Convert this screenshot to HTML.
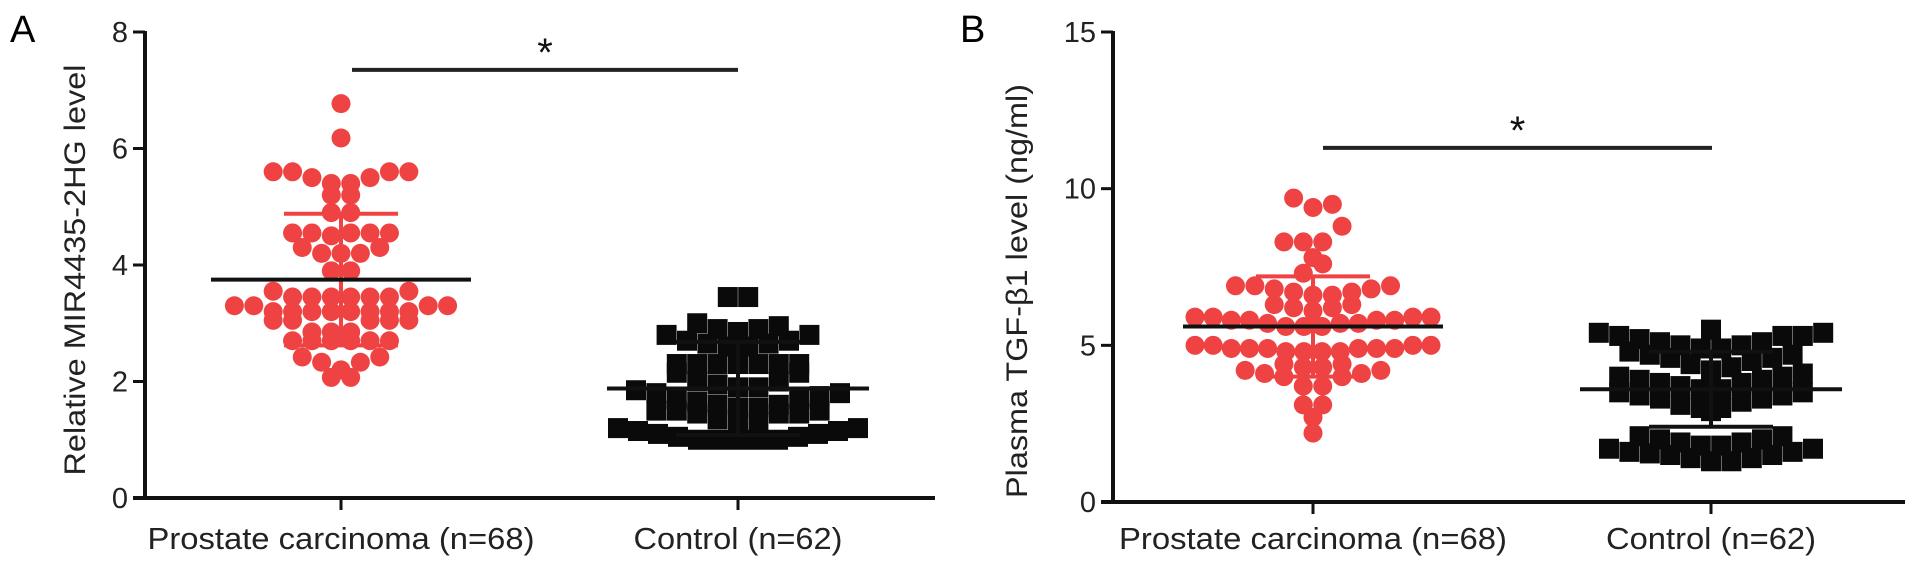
<!DOCTYPE html>
<html><head><meta charset="utf-8"><style>
html,body{margin:0;padding:0;background:#fff;}
svg{display:block;font-family:"Liberation Sans",sans-serif;}
</style></head><body>
<svg id="chart" width="1913" height="567" viewBox="0 0 1913 567" xmlns="http://www.w3.org/2000/svg"></svg>
<script>
// ---- data ----
const categories = ["Prostate carcinoma (n=68)", "Control (n=62)"];
const ticksA = [0, 2, 4, 6, 8];
const ticksB = [0, 5, 10, 15];
const pcA = [6.77,6.18,5.6,5.6,5.6,5.6,5.5,5.5,5.4,5.4,5.2,5.2,4.9,4.9,4.55,4.55,4.55,4.55,4.55,4.5,4.3,4.3,4.2,4.2,4.2,3.9,3.9,3.55,3.55,
 3.45,3.45,3.45,3.45,3.45,3.45,3.3,3.3,3.3,3.3,3.2,3.2,3.2,3.2,3.2,3.2,3.2,3.2,3.05,3.05,3.05,3.05,3.05,2.85,2.85,2.85,
 2.7,2.7,2.7,2.7,2.7,2.7,2.42,2.42,2.33,2.33,2.2,2.07,2.07];
const ctA = [3.45,3.45,2.95,2.9,2.85,2.8,2.7,2.65,2.6,2.6,2.65,2.7,2.8,2.9,3.0,2.3,2.3,2.3,2.3,2.3,2.3,2.3,2.15,2.15,2.0,2.0,
 1.9,1.85,1.8,1.75,1.7,1.65,1.6,1.55,1.5,1.45,1.5,1.55,1.6,1.7,1.8,1.9,1.95,
 1.45,1.35,1.3,1.2,1.15,1.1,1.05,1.0,1.0,1.0,1.0,1.0,1.05,1.1,1.15,1.2,1.3,1.45,1.5];
const statsA = {pcMean:3.75, pcSD:1.13, ctMean:1.88, ctSD:0.8, sig:7.35};
const pcB = [9.7,9.5,9.4,8.8,8.3,8.3,8.3,7.8,7.6,7.3,6.9,6.9,6.8,6.7,6.7,6.6,6.6,6.8,6.9,6.3,6.2,6.1,6.2,6.3,
 5.9,5.9,5.8,5.8,5.7,5.7,5.6,5.6,5.7,5.8,5.8,5.9,5.9,5.6,
 5.0,5.0,4.9,4.9,4.8,4.8,4.8,4.9,4.9,5.0,5.0,4.9,4.8,4.9,
 4.4,4.3,4.2,4.1,4.0,4.0,4.1,4.2,4.3,4.4,3.7,3.7,3.1,3.1,2.7,2.2];
const ctB = [5.5,5.4,5.3,5.3,5.2,5.3,5.4,
 5.1,5.0,4.9,4.8,4.7,4.6,4.4,4.2,4.1,4.3,4.5,4.6,4.7,4.9,5.0,5.1,
 4.0,3.9,3.8,3.7,3.6,3.5,3.4,3.3,3.1,3.0,2.9,3.0,3.2,3.3,3.4,3.5,3.6,3.8,3.9,4.0,
 2.1,2.0,1.9,1.8,1.7,1.6,1.5,1.4,1.3,1.3,1.4,1.5,1.6,1.7,1.8,1.9,2.0,2.1,1.55];
const statsB = {pcMean:5.6, pcSD:1.6, ctMean:3.6, ctSD:1.2, sig:11.3};

const NS="http://www.w3.org/2000/svg";
const svg=document.getElementById('chart');
function mk(tag,attrs,parent){const e=document.createElementNS(NS,tag);for(const k in attrs)e.setAttribute(k,attrs[k]);(parent||svg).appendChild(e);return e;}

function panel(cfg){
  const g=mk('g',{});
  
  
  const y=v=>cfg.y0-(v/cfg.vmax)*(cfg.y0-cfg.ytop);
  const L=mk('text',{x:cfg.letterX,y:42,'font-size':38},g); L.textContent=cfg.letter;
  
  
  const ya=mk('line',{x1:cfg.x0,y1:cfg.ytop-1,x2:cfg.x0,y2:cfg.y0+2,stroke:'#111','stroke-width':4},g);
  
  
  const xa=mk('line',{x1:cfg.x0-12,y1:cfg.y0,x2:cfg.xEnd,y2:cfg.y0,stroke:'#111','stroke-width':4},g);
  
  
  cfg.ticks.forEach(t=>{
    mk('line',{x1:cfg.x0-12,y1:y(t),x2:cfg.x0,y2:y(t),stroke:'#111','stroke-width':3},g);
    const tl=mk('text',{x:cfg.x0-17,y:y(t)+10,'font-size':29,'text-anchor':'end',fill:'#222'},g);
    tl.textContent=t;
    
    
  });
  cfg.centers.forEach((cx,i)=>{
    mk('line',{x1:cx,y1:cfg.y0,x2:cx,y2:cfg.y0+12,stroke:'#111','stroke-width':3},g);
    const xl=mk('text',{x:cx,y:549,'font-size':31,'text-anchor':'middle',fill:'#222',textLength:cfg.labelW[i],lengthAdjust:'spacingAndGlyphs'},g);
    xl.textContent=categories[i];
    
    
  });
  const yt=mk('text',{x:0,y:0,'font-size':30,'text-anchor':'middle',fill:'#222',textLength:cfg.titleLen,lengthAdjust:'spacingAndGlyphs',
    transform:`translate(${cfg.titleX},${cfg.titleY}) rotate(-90)`},g);
  yt.textContent=cfg.title;
  
  
  // row-binned scatter: lowest values in a row sit at centre
  function swarm(vals,cx,d,shape,color,nm,maxHalf){
    const bins={};
    vals.forEach(v=>{const b=Math.round(y(v)/(d*0.95));(bins[b]=bins[b]||[]).push(v);});
    Object.keys(bins).forEach(b=>{
      const arr=bins[b].slice().sort((a,c)=>a-c);
      const n=arr.length;
      const sp=n>1?Math.min(d*1.02,(2*maxHalf)/(n-1)):0;
      arr.forEach((v,i)=>{
        const k=Math.ceil(i/2)*(i%2?1:-1);
        const off=(n%2?k:k+(i%2?-0.5:0.5)*(i===0?-1:1))*sp;
        const px=cx+(n%2?k*sp:(Math.ceil((i+1)/2)-0.5)*(i%2?1:-1)*sp);
        const py=y(v);
        let m;
        if(shape==='c') m=mk('circle',{cx:px,cy:py,r:d/2,fill:color},g);
        else m=mk('rect',{x:px-d/2,y:py-d/2,width:d,height:d,fill:color},g);
        
        
      });
    });
  }
  swarm(cfg.pc,cfg.centers[0],19,'c','#ef4343','carcinoma-point',118);
  swarm(cfg.ct,cfg.centers[1],20,'s','#0a0a0a','control-point',120);
  function stat(cx,mean,sd,color,mw,cw,nm){
    const s=mk('g',{},g);
    
    
    mk('line',{x1:cx,y1:y(mean+sd),x2:cx,y2:y(mean-sd),stroke:color,'stroke-width':4},s);
    mk('line',{x1:cx-cw,y1:y(mean+sd),x2:cx+cw,y2:y(mean+sd),stroke:color,'stroke-width':4},s);
    mk('line',{x1:cx-cw,y1:y(mean-sd),x2:cx+cw,y2:y(mean-sd),stroke:color,'stroke-width':4},s);
    mk('line',{x1:cx-mw,y1:y(mean),x2:cx+mw,y2:y(mean),stroke:'#111','stroke-width':4},s);
  }
  stat(cfg.centers[0],cfg.stats.pcMean,cfg.stats.pcSD,'#ef4343',130,57,'carcinoma-mean-sd');
  stat(cfg.centers[1],cfg.stats.ctMean,cfg.stats.ctSD,'#111',131,62,'control-mean-sd');
  const sb=mk('line',{x1:cfg.sigX1,y1:y(cfg.stats.sig),x2:cfg.sigX2,y2:y(cfg.stats.sig),stroke:'#222','stroke-width':4},g);
  
  
  const st=mk('text',{x:(cfg.sigX1+cfg.sigX2)/2,y:y(cfg.stats.sig)-4,'font-size':40,'text-anchor':'middle',fill:'#111'},g);
  st.textContent='*';
  
  
}
panel({name:'panel-a',letter:'A',letterX:10,x0:145,y0:498,ytop:32,vmax:8,xEnd:935,ticks:ticksA,centers:[341,738],labelW:[387,209],
  title:'Relative MIR4435-2HG level',titleX:85,titleY:270,titleLen:411,pc:pcA,ct:ctA,stats:statsA,sigX1:352,sigX2:738});
panel({name:'panel-b',letter:'B',letterX:960,x0:1113,y0:502,ytop:32,vmax:15,xEnd:1905,ticks:ticksB,centers:[1313,1711],labelW:[388,210],
  title:'Plasma TGF-β1 level (ng/ml)',titleX:1027,titleY:291,titleLen:414,pc:pcB,ct:ctB,stats:statsB,sigX1:1323,sigX2:1712});
</script>
</body></html>
